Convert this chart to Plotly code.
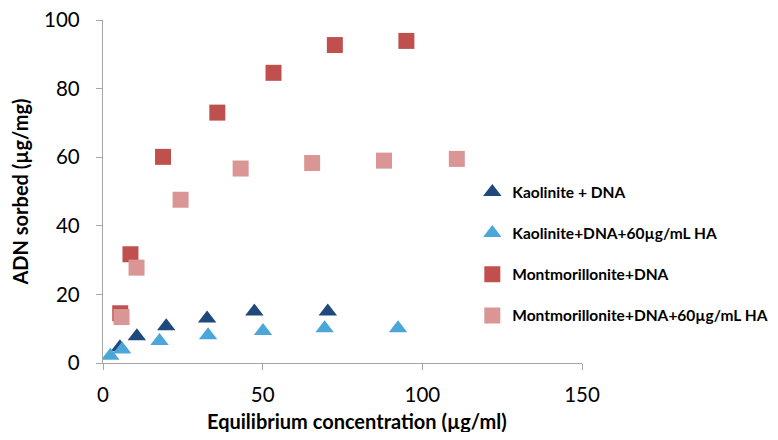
import plotly.graph_objects as go

### data ---------------------------------------------------------------------------------------

kao_x = [5.3, 10.6, 19.8, 32.6, 47.4, 70.4]
kao_y = [4.6, 7.8, 10.7, 13.0, 15.0, 15.0]

kao_ha_x = [2.3, 6.0, 17.7, 32.9, 50.1, 69.4, 92.4]
kao_ha_y = [2.1, 3.9, 6.4, 8.1, 9.3, 10.1, 10.1]

mont_x = [5.4, 8.6, 18.8, 35.8, 53.4, 72.6, 95.0]
mont_y = [14.5, 31.7, 60.1, 73.0, 84.6, 92.7, 93.9]

mont_ha_x = [5.8, 10.5, 24.3, 43.1, 65.5, 88.0, 110.8]
mont_ha_y = [13.4, 27.8, 47.6, 56.7, 58.3, 59.0, 59.5]

names = ["Kaolinite + DNA", "Kaolinite+DNA+60µg/mL HA",
         "Montmorillonite+DNA", "Montmorillonite+DNA+60µg/mL HA"]

x_ticks = [0, 50, 100, 150]
y_ticks = [0, 20, 40, 60, 80, 100]

### figure --------------------------------------------------------------------------------------

FONT = "Lato"
AXIS_GREY = "#A6A6A6"

series = [
    (kao_x, kao_y, names[0], "triangle-up", "#1F497D", 16),
    (kao_ha_x, kao_ha_y, names[1], "triangle-up", "#4BA7D8", 16),
    (mont_x, mont_y, names[2], "square", "#C0504D", 16),
    (mont_ha_x, mont_ha_y, names[3], "square", "#D99694", 16),
]

fig = go.Figure()
for i, (xs, ys, name, sym, col, size) in enumerate(series):
    fig.add_trace(go.Scatter(
        x=xs, y=ys, mode="markers", name=name, legendgroup=f"g{i}",
        marker=dict(symbol=sym, color=col, size=size, line=dict(width=0)),
    ))

# page body adds an 8px margin, so the figure is sized to fit inside the window
fig.update_layout(
    width=762, height=424,
    margin=dict(l=94.5, r=188, t=12, b=68.7, autoexpand=False),
    paper_bgcolor="white", plot_bgcolor="white",
    font=dict(family=FONT, color="black"),
    legend=dict(
        x=0.771, xanchor="left", y=0.547, yanchor="top",
        font=dict(family=FONT, size=15.5, color="black", weight="bold"),
        tracegroupgap=18, bgcolor="rgba(0,0,0,0)",
    ),
    showlegend=True,
)

fig.update_xaxes(
    range=[0, 150], tickvals=x_ticks, showgrid=False, zeroline=False,
    showline=True, linecolor=AXIS_GREY, linewidth=1.3, automargin=False,
    ticks="outside", ticklen=6, tickcolor=AXIS_GREY, tickwidth=1.3,
    tickfont=dict(size=20.5, family=FONT), ticklabelstandoff=7,
    ticklabeloverflow="allow",
)
fig.update_yaxes(
    range=[0, 100], tickvals=y_ticks, showgrid=False, zeroline=False,
    showline=True, linecolor=AXIS_GREY, linewidth=1.3, automargin=False,
    ticks="outside", ticklen=6, tickcolor=AXIS_GREY, tickwidth=1.3,
    tickfont=dict(size=20.5, family=FONT), ticklabelstandoff=12,
    ticklabeloverflow="allow",
    title=dict(text="ADN sorbed (µg/mg)", font=dict(size=20, family=FONT, weight="bold"),
               standoff=12),
)

# x title sits a little right of the plot centre in the original
fig.add_annotation(
    text="Equilibrium concentration (µg/ml)", xref="paper", yref="paper",
    x=0.53, y=-0.168, xanchor="center", yanchor="middle", showarrow=False,
    font=dict(size=20, family=FONT, weight="bold", color="black"),
)

fig.write_html("out.html")
